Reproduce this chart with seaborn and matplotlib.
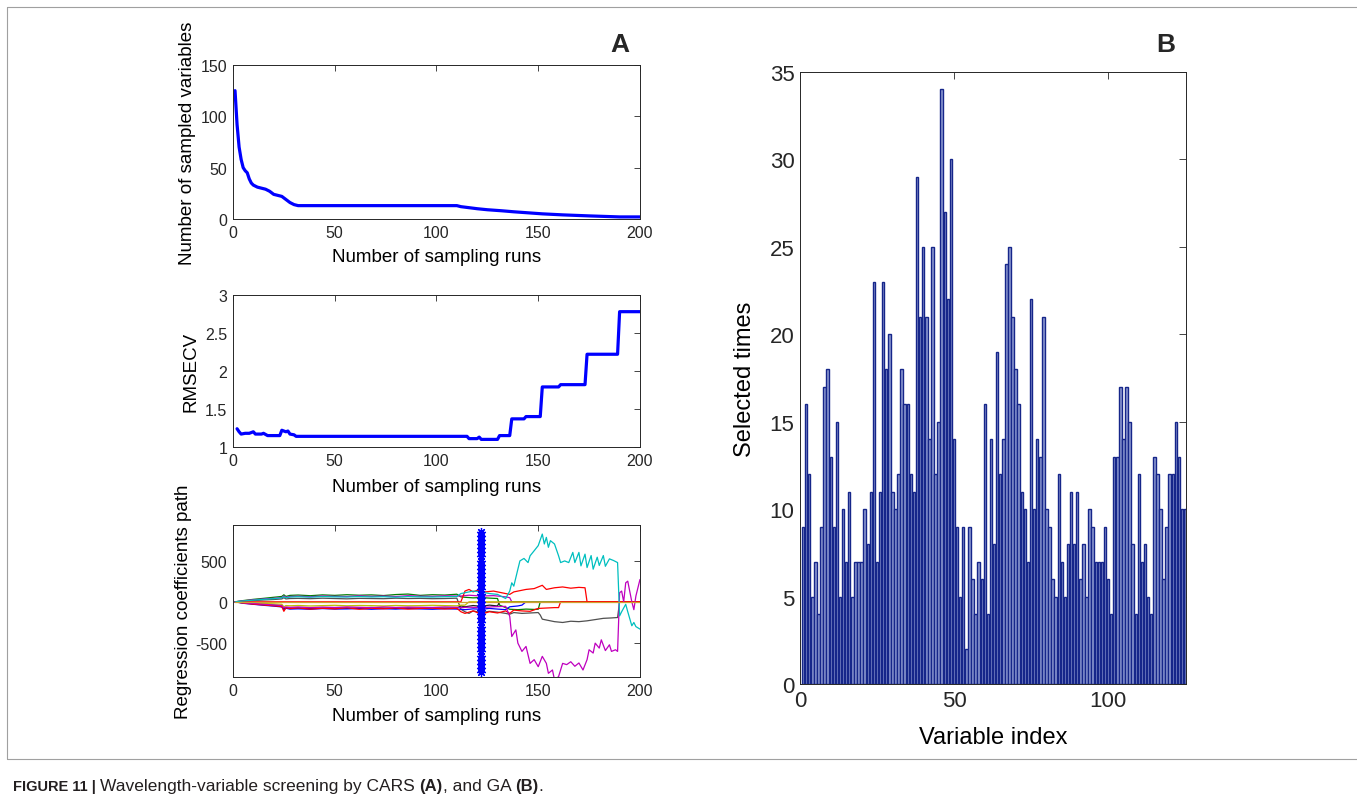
import matplotlib
matplotlib.use("Agg")
import matplotlib.pyplot as plt
import seaborn as sns
from matplotlib.lines import Line2D

sns.set_theme(style="white")
plt.rcParams['font.family'] = ['Liberation Sans', 'DejaVu Sans']
plt.rcParams['axes.unicode_minus'] = False

# ---- data ----
# (A) top: number of sampled variables vs sampling run
runs_var = [1, 2, 3, 4, 5, 6, 7, 8, 9, 10, 12, 14, 16, 18, 20, 22, 24, 26, 28, 30, 32,
            110, 112, 116, 120, 125, 132, 138, 145, 152, 162, 175, 190, 200]
n_var = [125, 92, 70, 58, 50, 47, 45, 39, 35, 33, 31, 30, 29, 27, 24, 23, 22, 19, 16, 14, 13,
         13, 12, 11, 10, 9, 8, 7, 6, 5, 4, 3, 2, 2]

# (A) middle: RMSECV
runs_rmse = [2, 3, 4, 6, 8, 10, 11, 14, 15, 17, 23, 24, 26, 27, 28, 30, 31, 115, 116, 120,
             121, 122, 130, 131, 136, 137, 143, 144, 151, 152, 160, 161, 173, 174, 189, 190, 200]
rmsecv = [1.24, 1.20, 1.17, 1.18, 1.18, 1.20, 1.17, 1.17, 1.18, 1.15, 1.15, 1.22, 1.20, 1.21,
          1.17, 1.16, 1.14, 1.14, 1.11, 1.11, 1.13, 1.10, 1.10, 1.15, 1.15, 1.37, 1.37, 1.40,
          1.40, 1.79, 1.79, 1.82, 1.82, 2.22, 2.22, 2.78, 2.78]

# (A) bottom: regression coefficient paths
band_runs = [1, 5, 10, 15, 20, 24, 25, 26, 28, 32, 38, 44, 50, 56, 62, 68, 74, 80, 86, 92, 98, 104, 110, 112]
green_band = [0, 15, 30, 42, 55, 65, 85, 65, 78, 82, 74, 84, 78, 86, 80, 84, 76, 88, 94, 78, 86, 82, 92, 60]
magenta_band = [0, 12, 24, 34, 42, 52, 70, 55, 64, 68, 62, 70, 66, 64, 72, 66, 70, 64, 74, 68, 66, 72, 70, 70]
gray_band = [0, 8, 15, 22, 28, 35, 50, 35, 40, 42, 38, 44, 40, 36, 42, 40, 38, 44, 40, 42, 38, 40, 44, -90]
cyan_band = [0, 10, 20, 30, 38, 48, 62, 50, 58, 62, 56, 64, 60, 58, 64, 59, 62, 56, 64, 60, 58, 62, 64, 100]
red_band = [0, -15, -28, -38, -48, -58, -115, -72, -82, -74, -88, -78, -85, -72, -90, -78, -84, -74, -88, -80, -76, -86, -78, -120]
blue_band = [0, -18, -30, -42, -52, -62, -95, -78, -88, -85, -90, -82, -88, -86, -82, -90, -84, -88, -82, -86, -90, -84, -88, -90]
black_band = [0, -12, -22, -32, -40, -50, -85, -72, -78, -74, -80, -76, -72, -78, -74, -68, -76, -80, -74, -78, -72, -76, -74, -50]
olive_band = [0, -8, -15, -20, -25, -30, -60, -45, -48, -44, -50, -46, -42, -48, -44, -46, -50, -44, -48, -46, -42, -46, -48, -40]
magenta2_band = [0, -10, -20, -30, -38, -45, -72, -62, -67, -62, -70, -64, -68, -62, -66, -70, -62, -68, -64, -66, -68, -62, -66, -70]

green_tail_runs = [114, 118, 122, 126, 130, 131, 136, 140, 144, 148, 150, 151, 200]
green_tail = [55, 48, 52, 45, 40, -40, -90, -95, -88, -92, -90, 0, 0]
magenta_tail_runs = [116, 122, 128, 134, 136, 137, 200]
magenta_tail = [80, 70, 75, 60, 50, 0, 0]
magenta2_tail_runs = [116, 122, 128, 134, 136, 137, 139, 140, 142, 144, 146, 148, 150, 152, 154, 155,
                      157, 158, 160, 162, 164, 166, 168, 170, 172, 174, 175, 177, 178, 180, 181, 183,
                      185, 186, 188, 189, 190, 191, 192, 193, 194, 196, 197, 198, 200]
magenta2_tail = [-65, -70, -60, -55, -175, -420, -340, -500, -600, -540, -745, -700, -785, -660, -745,
                 -865, -825, -945, -905, -745, -760, -725, -780, -740, -825, -700, -580, -620, -500,
                 -560, -460, -590, -520, -600, -580, -600, 110, 130, 0, 230, 250, 0, -95, 70, 270]
cyan_tail_runs = [114, 118, 122, 126, 130, 134, 136, 137, 138, 140, 141, 143, 145, 146, 148, 150, 152,
                  153, 154, 155, 156, 158, 160, 161, 163, 165, 167, 168, 170, 171, 173, 174, 176, 177,
                  179, 180, 182, 183, 185, 187, 189, 190, 191, 193, 194, 196, 197, 198, 200]
cyan_tail = [110, 130, 120, 100, 90, 40, 130, 230, 190, 395, 495, 525, 475, 557, 618, 680, 820, 700,
             780, 660, 740, 700, 557, 475, 495, 475, 598, 475, 598, 435, 577, 415, 560, 395, 540, 440,
             560, 430, 520, 500, 475, -170, -120, -30, -120, -290, -250, -300, -330]
gray_tail_runs = [114, 116, 118, 122, 126, 130, 134, 136, 138, 142, 146, 150, 151, 152, 154, 158, 162,
                  166, 170, 174, 178, 182, 186, 189, 190, 200]
gray_tail = [-120, -140, -110, -130, -115, -125, -140, -150, -130, -140, -135, -130, -160, -210, -220,
             -240, -250, -235, -240, -230, -215, -200, -195, -190, 0, 0]
red_tail_runs = [114, 118, 122, 126, 130, 134, 136, 138, 142, 146, 150, 154, 158, 160, 161, 200]
red_tail = [-140, -110, -150, -120, -135, -110, -140, -100, -110, -115, -80, -75, -70, -70, 0, 0]
red_up_runs = [1, 110, 112, 114, 116, 118, 120, 124, 128, 132, 136, 138, 140, 144, 148, 150, 152, 154,
               158, 162, 166, 170, 173, 174, 200]
red_up = [0, 0, 0, 130, 150, 120, 140, 120, 130, 110, 90, 120, 130, 150, 160, 180, 200, 150, 170, 180,
          165, 175, 170, 0, 0]
blue_tail_runs = [114, 118, 122, 126, 130, 134, 136, 138, 140, 142, 143, 144, 200]
blue_tail = [-95, -85, -90, -80, -88, -95, -60, -55, -50, -40, -20, 0, 0]
black_tail_runs = [114, 118, 122, 126, 130, 131, 200]
black_tail = [-60, -45, -55, -40, -50, 0, 0]
olive_tail_runs = [114, 116, 200]
olive_tail = [-40, 0, 0]
zero_runs = [1, 200]
zero_coef = [0, 0]

# optimal run marker
opt_run = 122
opt_marks = [-850, -800, -750, -700, -650, -600, -550, -500, -450, -400, -350, -300, -250, -200,
             -150, -100, -50, 0, 50, 100, 150, 200, 250, 300, 350, 400, 450, 500, 550, 600, 650,
             700, 750, 800, 850]

# (B) GA selection frequency per variable
var_index = list(range(1, 126))
selected_times = [9, 16, 12, 5, 7, 4, 9, 17, 18, 13, 9, 15, 5, 10, 7, 11, 5, 7, 7, 7,
                  10, 8, 11, 23, 7, 11, 23, 18, 20, 11, 10, 12, 18, 16, 16, 12, 11, 29, 21, 25,
                  21, 14, 25, 12, 15, 34, 27, 22, 30, 14, 9, 5, 9, 2, 9, 6, 4, 7, 6, 16,
                  4, 14, 8, 19, 12, 14, 24, 25, 21, 18, 16, 11, 10, 7, 22, 10, 14, 13, 21, 10,
                  9, 6, 5, 12, 7, 5, 8, 11, 8, 11, 6, 8, 5, 10, 9, 7, 7, 7, 9, 6,
                  4, 13, 13, 17, 14, 17, 15, 8, 4, 12, 7, 8, 5, 4, 13, 12, 10, 6, 9, 12,
                  12, 15, 13, 10, 10]

# ---- figure ----
fig = plt.figure(figsize=(13.57, 8.04), dpi=100)
axA1 = fig.add_axes([0.1717, 0.7264, 0.2999, 0.1915])
axA2 = fig.add_axes([0.1717, 0.4428, 0.2999, 0.1891])
axA3 = fig.add_axes([0.1717, 0.1567, 0.2999, 0.1891])
axB = fig.add_axes([0.5895, 0.148, 0.2845, 0.7612])

tick_col = '#262626'
for ax in (axA1, axA2, axA3, axB):
    ax.tick_params(direction='in', top=True, right=True, length=4, width=0.6,
                   colors=tick_col, labelsize=11.5, pad=4)
    for s in ax.spines.values():
        s.set_linewidth(0.7)
        s.set_color(tick_col)
    ax.grid(False)

# A1
sns.lineplot(x=runs_var, y=n_var, color='#0000ff', lw=2.3, ax=axA1, estimator=None, sort=False)
axA1.set_xlim(0, 200)
axA1.set_ylim(0, 150)
axA1.set_xticks([0, 50, 100, 150, 200])
axA1.set_yticks([0, 50, 100, 150])
axA1.set_xlabel('Number of sampling runs', fontsize=13.5, color='black')
axA1.set_ylabel('Number of sampled variables', fontsize=13.5, color='black')
axA1.xaxis.set_label_coords(0.5, -0.19)
axA1.yaxis.set_label_coords(-0.091, 0.5)

# A2
sns.lineplot(x=runs_rmse, y=rmsecv, color='#0000ff', lw=2.3, ax=axA2, estimator=None, sort=False)
axA2.set_xlim(0, 200)
axA2.set_ylim(1, 3)
axA2.set_xticks([0, 50, 100, 150, 200])
axA2.set_yticks([1, 1.5, 2, 2.5, 3])
axA2.set_yticklabels(['1', '1.5', '2', '2.5', '3'])
axA2.set_xlabel('Number of sampling runs', fontsize=13.5, color='black')
axA2.set_ylabel('RMSECV', fontsize=13.5, color='black')
axA2.xaxis.set_label_coords(0.5, -0.204)
axA2.yaxis.set_label_coords(-0.0835, 0.5)

# A3
paths = [
    (band_runs + green_tail_runs, green_band + green_tail, '#008000'),
    (band_runs + magenta_tail_runs, magenta_band + magenta_tail, '#bf00bf'),
    (band_runs + gray_tail_runs, gray_band + gray_tail, '#505050'),
    (band_runs + black_tail_runs, black_band + black_tail, '#202020'),
    (band_runs + blue_tail_runs, blue_band + blue_tail, '#0000ff'),
    (band_runs + olive_tail_runs, olive_band + olive_tail, '#bfbf00'),
    (band_runs + red_tail_runs, red_band + red_tail, '#ff0000'),
    (red_up_runs, red_up, '#ff0000'),
    (band_runs + magenta2_tail_runs, magenta2_band + magenta2_tail, '#bf00bf'),
    (band_runs + cyan_tail_runs, cyan_band + cyan_tail, '#00bfbf'),
    (zero_runs, zero_coef, '#d0a030'),
]
for xs, ys, c in paths:
    sns.lineplot(x=xs, y=ys, color=c, lw=0.9, ax=axA3, estimator=None, sort=False)
axA3.plot([opt_run] * len(opt_marks), opt_marks, linestyle='none', marker=(8, 2, 0),
          markersize=6.5, markeredgecolor='#0000ff', markeredgewidth=0.9, color='#0000ff')
axA3.set_xlim(0, 200)
axA3.set_ylim(-910, 930)
axA3.set_xticks([0, 50, 100, 150, 200])
axA3.set_yticks([-500, 0, 500])
axA3.set_xlabel('Number of sampling runs', fontsize=13.5, color='black')
axA3.set_ylabel('Regression coefficients path', fontsize=13.5, color='black')
axA3.xaxis.set_label_coords(0.5, -0.197)
axA3.yaxis.set_label_coords(-0.10, 0.5)

# B
sns.barplot(x=var_index, y=selected_times, native_scale=True, width=0.8, color='#8e9ad2',
            edgecolor='#16268a', linewidth=1.0, saturation=1, errorbar=None, ax=axB)
axB.set_xlim(0, 125.3)
axB.set_ylim(0, 35)
axB.set_xticks([0, 50, 100])
axB.set_xticklabels(['0', '50', '100'])
axB.set_yticks(range(0, 36, 5))
axB.tick_params(labelsize=16, length=5)
axB.set_xlabel('Variable index', fontsize=17, color='black')
axB.set_ylabel('Selected times', fontsize=17, color='black')
axB.xaxis.set_label_coords(0.5, -0.069)
axB.yaxis.set_label_coords(-0.114, 0.5)

# panel letters
fig.text(620 / 1357, 1 - 45 / 804, 'A', ha='center', va='center', fontsize=19, fontweight='bold')
fig.text(1166 / 1357, 1 - 45 / 804, 'B', ha='center', va='center', fontsize=19, fontweight='bold')

# frame around the figure area
frame_col = '#a0a0a0'
fig.add_artist(Line2D([7 / 1357, 7 / 1357], [1 - 8 / 804, 1 - 760 / 804], color=frame_col, lw=0.8))
fig.add_artist(Line2D([7 / 1357, 1.0], [1 - 760 / 804, 1 - 760 / 804], color=frame_col, lw=0.8))
fig.add_artist(Line2D([7 / 1357, 1.0], [1 - 8 / 804, 1 - 8 / 804], color=frame_col, lw=0.8))

# caption with mixed weights
renderer = fig.canvas.get_renderer()
pieces = [('FIGURE 11 | ', 'bold', 10.5), ('Wavelength-variable screening by CARS ', 'normal', 12.5),
          ('(A)', 'bold', 12), (', and GA ', 'normal', 12.5), ('(B)', 'bold', 12), ('.', 'normal', 12.5)]
x0 = 13 / 1357
for txt, w, fs in pieces:
    t = fig.text(x0, 1 - 787 / 804, txt, ha='left', va='center', fontsize=fs,
                 fontweight=w, color='#231f20')
    bb = t.get_window_extent(renderer=renderer)
    x0 += bb.width / fig.bbox.width

fig.savefig('out.png', dpi=100)
